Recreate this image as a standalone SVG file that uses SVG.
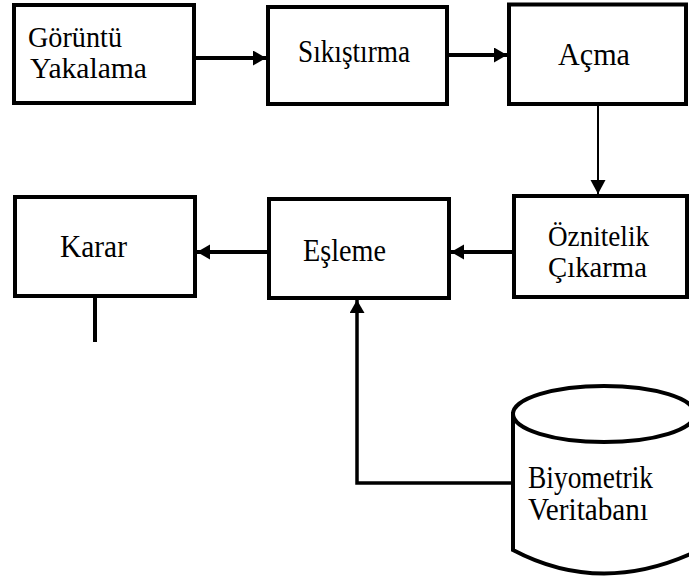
<svg xmlns="http://www.w3.org/2000/svg" width="689" height="578" viewBox="0 0 689 578">
<style>
.box{fill:#fff;stroke:#000;stroke-width:4}
.lbl{font-family:"Liberation Serif","Times New Roman",serif;font-size:31px;fill:#000}
.two{font-size:29px}
.thick{fill:none;stroke:#000;stroke-width:4}
.thin{fill:none;stroke:#000;stroke-width:2}
.mid{fill:none;stroke:#000;stroke-width:3.5}
</style>
<defs>
<marker id="ah" markerUnits="userSpaceOnUse" markerWidth="14" markerHeight="16" refX="13" refY="7.5" orient="auto">
<path d="M0,0 L13,7.5 L0,15 z" fill="#000"/>
</marker>
<marker id="ahs" markerUnits="userSpaceOnUse" markerWidth="16" markerHeight="16" refX="14" refY="8" orient="auto">
<path d="M0,0.5 L14,8 L0,15.5 z" fill="#000"/>
</marker>
</defs>
<g id="connectors">
<line class="thick" x1="196" y1="58" x2="266" y2="58" marker-end="url(#ah)"/>
<line class="thick" x1="449" y1="55" x2="507" y2="55" marker-end="url(#ah)"/>
<line class="thin" x1="598" y1="106" x2="598" y2="194" marker-end="url(#ahs)"/>
<line class="thick" x1="512" y1="252" x2="451" y2="252" marker-end="url(#ah)"/>
<line class="thick" x1="267" y1="252" x2="197" y2="252" marker-end="url(#ah)"/>
<line class="thick" x1="95" y1="298" x2="95" y2="342"/>
<path class="mid" d="M513,483 H357 V300" marker-end="url(#ah)"/>
</g>
<g id="goruntu">
<rect class="box" x="14" y="5" width="180" height="98"/>
<text class="lbl two" x="28" y="47" textLength="94" lengthAdjust="spacingAndGlyphs">Görüntü</text>
<text class="lbl two" x="30" y="78" textLength="117" lengthAdjust="spacingAndGlyphs">Yakalama</text>
</g>
<g id="sikistirma">
<rect class="box" x="268" y="7" width="179" height="97"/>
<text class="lbl" x="298" y="62" textLength="112" lengthAdjust="spacingAndGlyphs">Sıkıştırma</text>
</g>
<g id="acma">
<rect class="box" x="509" y="4.5" width="177" height="99.5"/>
<text class="lbl" x="558" y="65" textLength="72" lengthAdjust="spacingAndGlyphs">Açma</text>
</g>
<g id="oznitelik">
<rect class="box" x="514" y="196" width="173" height="101"/>
<text class="lbl two" x="548" y="246" textLength="101" lengthAdjust="spacingAndGlyphs">Öznitelik</text>
<text class="lbl two" x="548" y="277" textLength="99" lengthAdjust="spacingAndGlyphs">Çıkarma</text>
</g>
<g id="esleme">
<rect class="box" x="269" y="199" width="180" height="99"/>
<text class="lbl" x="303" y="261" textLength="83" lengthAdjust="spacingAndGlyphs">Eşleme</text>
</g>
<g id="karar">
<rect class="box" x="15" y="197" width="180" height="99"/>
<text class="lbl" x="60" y="257" textLength="67" lengthAdjust="spacingAndGlyphs">Karar</text>
</g>
<g id="veritabani">
<path d="M513,414 L513,550 Q600,596 695,552 L695,414 Z" fill="#fff" stroke="#000" stroke-width="4"/>
<ellipse cx="604" cy="414" rx="91" ry="28" fill="#fff" stroke="#000" stroke-width="4"/>
<text class="lbl" x="528" y="488" textLength="125" lengthAdjust="spacingAndGlyphs">Biyometrik</text>
<text class="lbl" x="528" y="520" textLength="120" lengthAdjust="spacingAndGlyphs">Veritabanı</text>
</g>
</svg>
